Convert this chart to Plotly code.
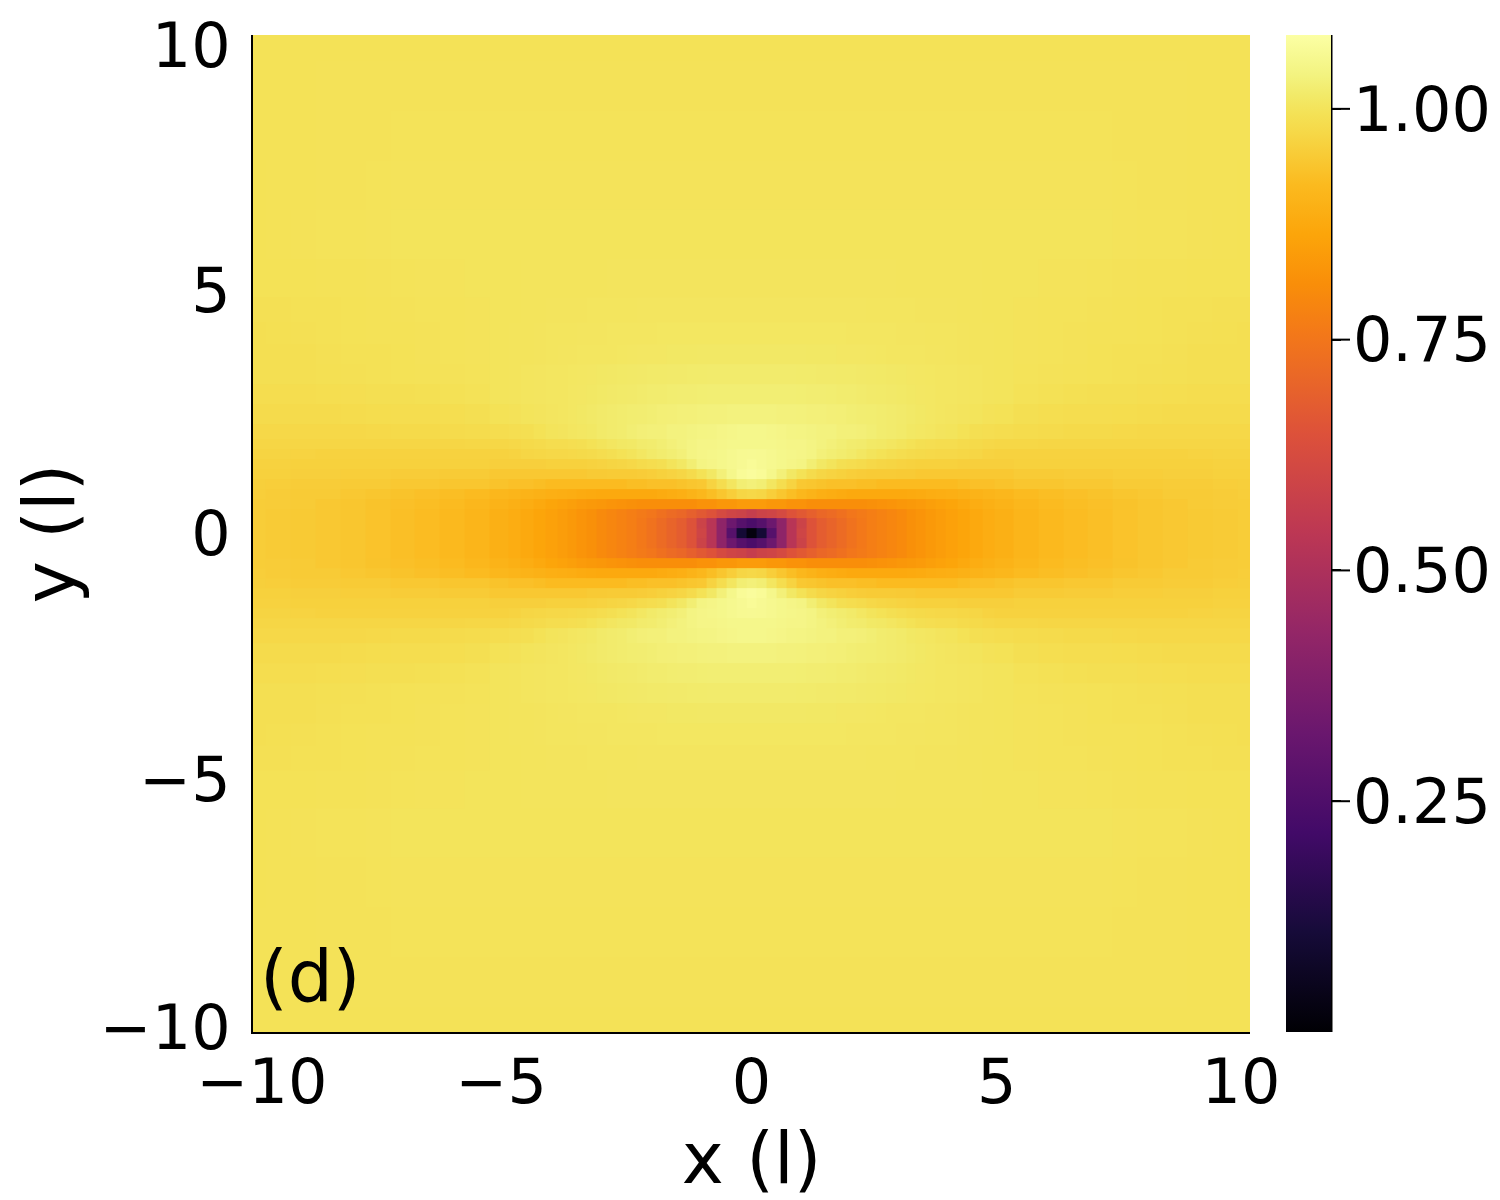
#!/usr/bin/env python
"""Heatmap panel (d): value around a central dip, read off the picture by eye."""
import plotly.graph_objects as go

# offsets from the centre, one quadrant; the panel is mirrored in x and y
x_offsets = [0, .2, .4, .6, .8, 1, 1.2, 1.4, 1.6, 1.8, 2, 2.2, 2.4, 2.6, 2.8, 3, 3.2, 3.4, 3.6, 3.8, 4, 4.25, 4.5,
             4.75, 5, 5.5, 6, 6.5, 7, 7.5, 8, 8.5, 9, 9.5, 10]
y_offsets = [0, .2, .4, .6, .8, 1, 1.2, 1.4, 1.6, 1.8, 2, 2.4, 2.8, 3.2, 3.6, 4, 4.5, 5, 6, 7, 8, 9, 10]

# one row per y offset, one column per x offset
quadrant = [
    [.02, .10, .27, .42, .53, .60, .65, .68, .70, .72,
     .74, .755, .77, .78, .79, .80, .815, .825, .835, .845, .855, .865, .875, .885, .893, .905, .915, .922, .928, .934, .94, .944, .947, .95, .953],
    [.24, .27, .33, .42, .53, .59, .65, .68, .70, .72,
     .74, .755, .77, .78, .79, .80, .815, .825, .835, .845, .855, .865, .875, .885, .893, .905, .915, .922, .928, .934, .94, .944, .947, .95, .953],
    [.57, .59, .60, .62, .65, .67, .69, .71, .72, .735,
     .75, .76, .77, .78, .79, .80, .815, .825, .835, .845, .855, .865, .875, .885, .893, .905, .915, .922, .928, .934, .94, .944, .947, .95, .953],
    [.84, .84, .83, .83, .82, .82, .81, .81, .81, .81,
     .81, .81, .815, .82, .825, .83, .835, .84, .85, .858, .865, .875, .885, .893, .90, .91, .92, .925, .93, .935, .94, .945, .95, .952, .953],
    [.975, .97, .955, .94, .925, .91, .90, .89, .885, .88,
     .875, .875, .875, .875, .875, .875, .878, .88, .885, .888, .89, .895, .90, .905, .91, .92, .925, .93, .935, .94, .945, .95, .95, .952, .955],
    [1.03, 1.025, 1.005, .985, .965, .945, .94, .935, .93, .93,
     .93, .925, .925, .92, .92, .92, .92, .92, .92, .92, .92, .925, .93, .93, .935, .94, .94, .945, .945, .95, .95, .952, .952, .955, .957],
    [1.07, 1.065, 1.05, 1.03, 1.01, .995, .98, .97, .965, .96,
     .955, .952, .95, .95, .95, .948, .948, .945, .945, .945, .945, .945, .945, .945, .945, .95, .95, .952, .952, .955, .955, .958, .958, .96, .96],
    [1.065, 1.06, 1.055, 1.05, 1.045, 1.04, 1.025, 1.01, 1.0, .99,
     .985, .98, .975, .97, .968, .965, .962, .96, .96, .96, .96, .958, .958, .958, .958, .96, .96, .96, .96, .96, .96, .96, .96, .962, .962],
    [1.06, 1.058, 1.055, 1.05, 1.048, 1.045, 1.04, 1.03, 1.025, 1.02,
     1.015, 1.008, 1.0, .995, .99, .985, .98, .978, .976, .975, .975, .972, .97, .965, .962, .962, .962, .962, .962, .962, .962, .962, .965, .967, .967],
    [1.05, 1.05, 1.05, 1.048, 1.045, 1.045, 1.04, 1.035, 1.03, 1.025,
     1.02, 1.018, 1.012, 1.01, 1.005, 1.0, .995, .99, .988, .985, .985, .98, .978, .975, .972, .972, .97, .97, .97, .97, .97, .97, .97, .97, .97],
    [1.05, 1.05, 1.048, 1.045, 1.042, 1.04, 1.038, 1.035, 1.035, 1.03,
     1.03, 1.028, 1.025, 1.02, 1.018, 1.015, 1.01, 1.008, 1.005, 1.002, 1.0, .995, .99, .988, .985, .982, .98, .978, .978, .976, .975, .975, .975, .975, .975],
    [1.035, 1.035, 1.035, 1.033, 1.033, 1.032, 1.03, 1.03, 1.028, 1.027,
     1.025, 1.023, 1.022, 1.02, 1.018, 1.016, 1.013, 1.01, 1.008, 1.006, 1.004, 1.002, 1.0, .997, .995, .99, .987, .985, .985, .984, .982, .981, .98, .98, .98],
    [1.025, 1.025, 1.025, 1.025, 1.025, 1.024, 1.023, 1.023, 1.022, 1.02,
     1.02, 1.018, 1.016, 1.015, 1.014, 1.012, 1.01, 1.009, 1.008, 1.006, 1.005, 1.004, 1.003, 1.001, 1.0, .996, .993, .991, .99, .989, .988, .987, .985, .985, .985],
    [1.018, 1.018, 1.018, 1.018, 1.018, 1.017, 1.017, 1.016, 1.016, 1.015,
     1.015, 1.014, 1.013, 1.012, 1.011, 1.01, 1.009, 1.008, 1.007, 1.006, 1.005, 1.004, 1.003, 1.001, 1.0, .998, .997, .996, .995, .994, .992, .991, .99, .99, .99],
    [1.011, 1.011, 1.011, 1.011, 1.011, 1.011, 1.01, 1.01, 1.01, 1.009,
     1.009, 1.009, 1.008, 1.007, 1.006, 1.006, 1.005, 1.005, 1.004, 1.004, 1.003, 1.002, 1.001, 1.001, 1.0, .999, .998, .997, .995, .994, .993, .992, .99, .99, .99],
    [1.007, 1.007, 1.007, 1.007, 1.007, 1.007, 1.007, 1.007, 1.007, 1.007,
     1.006, 1.006, 1.005, 1.005, 1.005, 1.004, 1.004, 1.004, 1.003, 1.003, 1.003, 1.002, 1.001, 1.001, 1.0, .999, .998, .997, .996, .996, .995, .994, .992, .991, .99],
    [1.004, 1.004, 1.004, 1.004, 1.004, 1.004, 1.004, 1.004, 1.004, 1.004,
     1.004, 1.004, 1.003, 1.003, 1.003, 1.003, 1.003, 1.002, 1.002, 1.002, 1.002, 1.001, 1.001, 1.0, 1.0, .999, .998, .998, .997, .996, .995, .994, .993, .992, .992],
    [1.002, 1.002, 1.002, 1.002, 1.002, 1.002, 1.002, 1.002, 1.002, 1.002,
     1.002, 1.002, 1.002, 1.002, 1.002, 1.001, 1.001, 1.001, 1.001, 1.001, 1.001, 1.001, 1.001, 1.0, 1.0, 1.0, .999, .999, .998, .997, .996, .996, .995, .995, .995],
    [1.0] * 29 + [.999, .998, .998, .997, .996, .995],
    [.999] * 29 + [.998, .997, .997, .996, .996, .995],
    [.998] * 29 + [.997, .997, .997, .996, .996, .996],
    [.997] * 32 + [.996, .996, .996],
    [.996] * 35,
]

# tick labels sit slightly off the true ticks in the reference
x_tick_at = [-9.82, -5.02, 0, 4.92, 9.82]
y_tick_at = [-9.9, -4.94, 0, 4.88, 9.8]
axis_labels = ["\u221210", "\u22125", "0", "5", "10"]
colorbar_ticks = [0.25, 0.50, 0.75, 1.00]
zmin, zmax = 0.0, 1.08

# full inferno, plotly's built-in one is too coarse near the yellow end
inferno = [
    [0, "#000004"], [.1, "#160b39"], [.2, "#420a68"], [.3, "#6a176e"], [.4, "#932667"],
    [.5, "#bc3754"], [.6, "#dd513a"], [.7, "#f37819"], [.75, "#f98e09"], [.8, "#fca50a"],
    [.85, "#fbba1f"], [.9, "#f6d746"], [.92, "#f4e155"], [.94, "#f2ea69"], [.96, "#f3f380"],
    [.98, "#f7f992"], [1, "#fcffa4"],
]

FONT = "DejaVu Sans"
W, H = 1492, 1192  # the page adds 8px on the left and top

xs = [-v for v in reversed(x_offsets[1:])] + x_offsets
ys = [-v for v in reversed(y_offsets[1:])] + y_offsets
half = [row[:0:-1] + row for row in quadrant]
z = half[:0:-1] + half

fig = go.Figure(go.Heatmap(
    x=xs, y=ys, z=z, colorscale=inferno, zmin=zmin, zmax=zmax,
    colorbar=dict(
        tickvals=colorbar_ticks, tickformat=".2f", ticks="outside", ticklen=10,
        tickwidth=2, tickcolor="black", thickness=45, outlinewidth=0,
        lenmode="fraction", len=1, y=0, yanchor="bottom",
        x=1278 / W, xanchor="left", xpad=0, ypad=0,
        tickfont=dict(family=FONT, size=62, color="black"),
    ),
))
bar_right = 1323 / W
fig.add_shape(type="line", xref="paper", yref="paper", x0=bar_right, x1=bar_right,
              y0=0, y1=1, line=dict(color="black", width=3))
# colorbar labels sit too far out with long ticks, so the ticks are lengthened here
for tick in colorbar_ticks:
    frac = (tick - zmin) / (zmax - zmin)
    fig.add_shape(type="line", xref="paper", yref="paper", x0=bar_right, x1=1342 / W,
                  y0=frac, y1=frac, line=dict(color="black", width=2))
fig.add_annotation(x=-9.9, y=-9.75, text="(d)", showarrow=False, xanchor="left", yanchor="bottom",
                   font=dict(family=FONT, size=71, color="black"))
axis = dict(
    range=[-10, 10], ticks="outside", tickcolor="rgba(0,0,0,0)", ticktext=axis_labels,
    showgrid=False, zeroline=False, showline=True, linecolor="black", linewidth=2,
    tickfont=dict(family=FONT, size=62, color="black"), automargin=False,
)
fig.update_xaxes(**axis, tickvals=x_tick_at, ticklen=0, ticklabelstandoff=-5, domain=[245 / W, 1242 / W],
                 title=dict(text="x (l)", font=dict(family=FONT, size=71, color="black"), standoff=40))
fig.update_yaxes(**axis, tickvals=y_tick_at, ticklen=8,
                 title=dict(text="y (l)", font=dict(family=FONT, size=71, color="black"), standoff=44))
fig.update_layout(width=W, height=H, margin=dict(l=0, r=0, t=27, b=168),
                  paper_bgcolor="white", plot_bgcolor="white")
fig.write_html("out.html")
